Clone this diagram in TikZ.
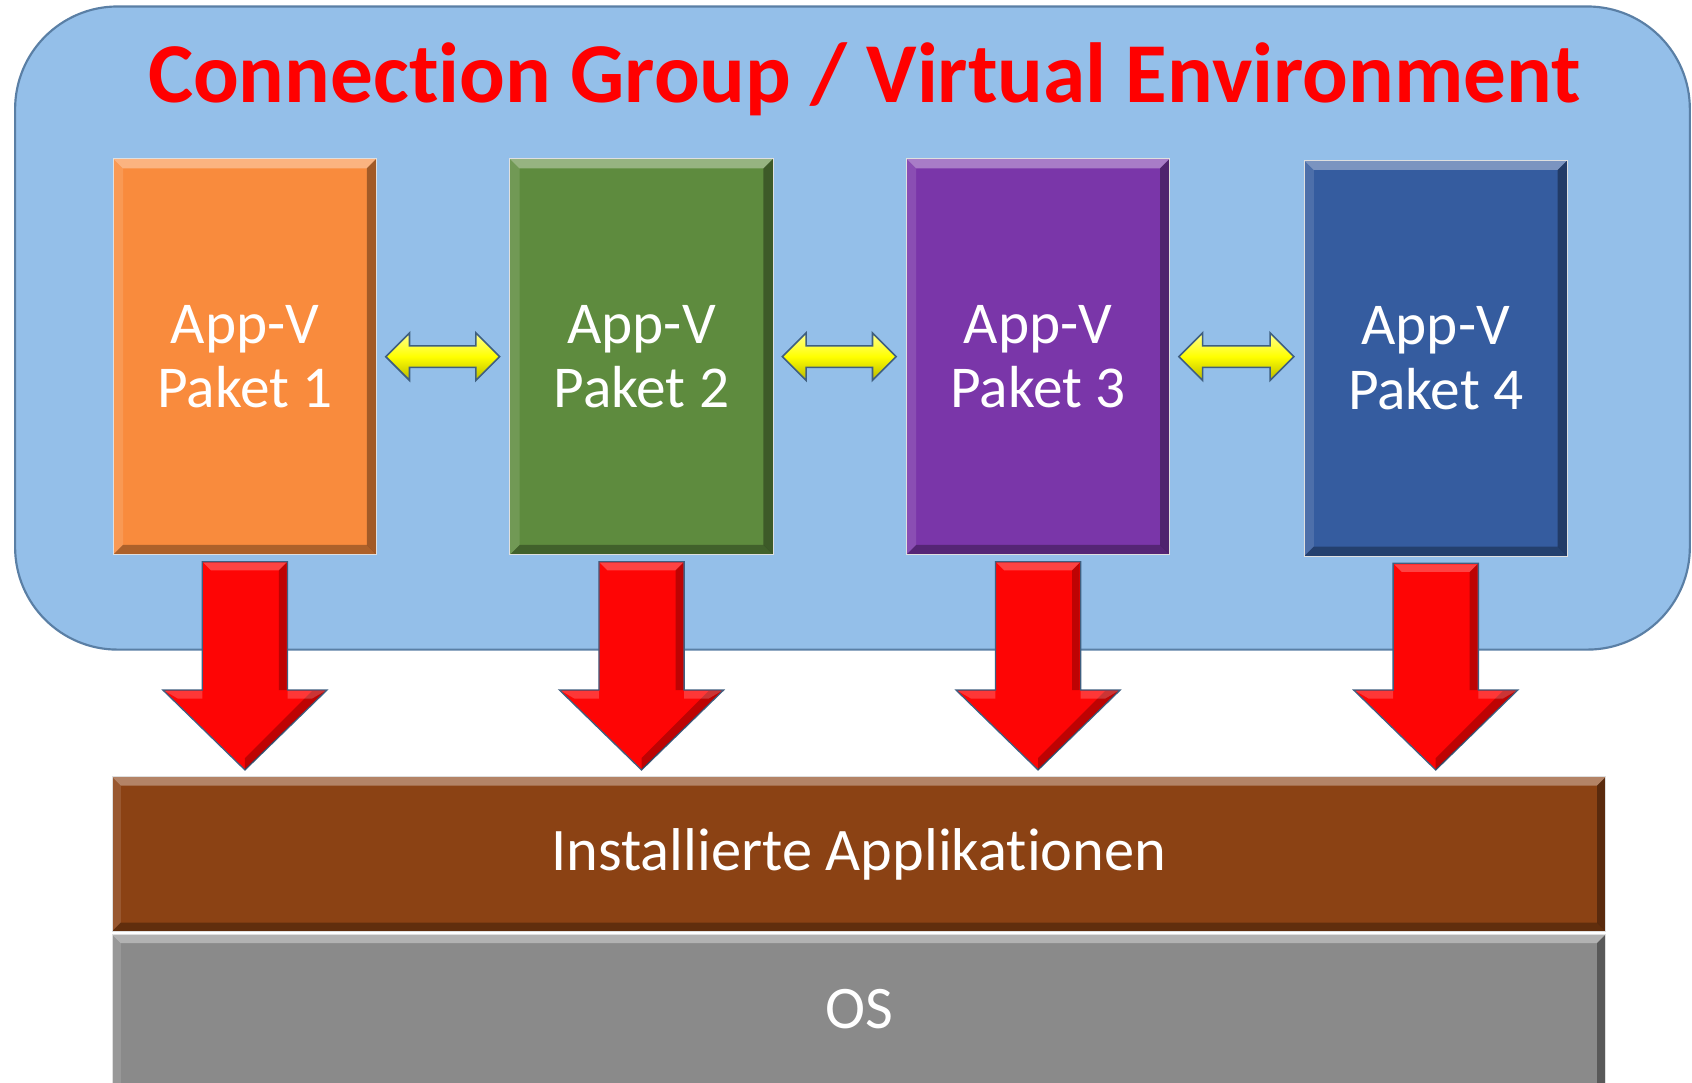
\documentclass[tikz,border=0pt]{standalone}
\usepackage{fontspec}
\setmainfont{Carlito}[Ligatures={NoCommon}]
\usetikzlibrary{calc}
\definecolor{grpfill}{HTML}{94BFE9}
\definecolor{grpline}{HTML}{5A7FA5}
\definecolor{cOrange}{HTML}{F98B3D}
\definecolor{cGreen}{HTML}{5E8B3E}
\definecolor{cPurple}{HTML}{7A36A9}
\definecolor{cBlue}{HTML}{355C9F}
\definecolor{cBrown}{HTML}{8B4214}
\definecolor{cGray}{HTML}{8A8A8A}
\definecolor{cRed}{HTML}{FE0505}
\definecolor{arrline}{HTML}{3F5F80}
\definecolor{yLight}{HTML}{FFFF90}
\definecolor{yDark}{HTML}{B8B800}
\tikzset{
  bevel/.style={path picture={
    \fill[white,opacity=.35] (path picture bounding box.north west) -- (path picture bounding box.north east)
      -- ($(path picture bounding box.north east)+(-#1,-#1)$) -- ($(path picture bounding box.north west)+(#1,-#1)$) -- cycle;
    \fill[white,opacity=.12] (path picture bounding box.north west) -- ($(path picture bounding box.north west)+(#1,-#1)$)
      -- ($(path picture bounding box.south west)+(#1,#1)$) -- (path picture bounding box.south west) -- cycle;
    \fill[black,opacity=.35] (path picture bounding box.north east) -- (path picture bounding box.south east)
      -- ($(path picture bounding box.south east)+(-#1,#1)$) -- ($(path picture bounding box.north east)+(-#1,-#1)$) -- cycle;
    \fill[black,opacity=.3] (path picture bounding box.south west) -- (path picture bounding box.south east)
      -- ($(path picture bounding box.south east)+(-#1,#1)$) -- ($(path picture bounding box.south west)+(#1,#1)$) -- cycle;
  }},
  pkbox/.style={fill=#1, draw=white!75!gray, line width=1pt, minimum width=244pt, minimum height=367pt,
    inner sep=0pt, align=center, text=white, font=\fontsize{55}{60}\selectfont, bevel=9pt},
  layer/.style={fill=#1, draw=white!75!gray, line width=1pt, minimum width=1384pt, inner sep=0pt,
    text=white, font=\fontsize{56}{62}\selectfont, bevel=8pt},
  redarrow/.style={fill=cRed, draw=arrline, line width=1.2pt, line join=miter},
  yarrow/.style={top color=yLight, bottom color=yDark, middle color=yellow, draw=arrline, line width=1.5pt},
}
\newcommand\pkarrow[2]{%
  \coordinate (tip#2) at ($(#1.south |- apps.north)+(0,-6)$);
  \coordinate (top#2) at ($(#1.south)+(0,6)$);
  \draw[redarrow] ($(top#2)+(-39.5,0)$) -- ($(top#2)+(39.5,0)$) -- ($(tip#2)+(39.5,-74)$) -- ($(tip#2)+(76,-74)$)
    -- (tip#2) -- ($(tip#2)+(-76,-74)$) -- ($(tip#2)+(-39.5,-74)$) -- cycle;
  \fill[white,opacity=.25] ($(top#2)+(-38.5,1)$) -- ($(top#2)+(38.5,1)$) -- ($(top#2)+(31.5,8)$) -- ($(top#2)+(-31.5,8)$) -- cycle;
  \fill[black,opacity=.25] ($(top#2)+(38.5,1)$) -- ($(tip#2)+(38.5,-74)$) -- ($(tip#2)+(31.5,-74)$) -- ($(top#2)+(31.5,8)$) -- cycle;
  \fill[black,opacity=.25] ($(tip#2)+(74,-73)$) -- (tip#2) -- ($(tip#2)+(0,-11)$) -- ($(tip#2)+(62,-73)$) -- cycle;
  \fill[white,opacity=.2] ($(tip#2)+(39.5,-73)$) -- ($(tip#2)+(74,-73)$) -- ($(tip#2)+(62,-66)$) -- ($(tip#2)+(39.5,-66)$) -- cycle;
  \fill[white,opacity=.2] ($(tip#2)+(-39.5,-73)$) -- ($(tip#2)+(-74,-73)$) -- ($(tip#2)+(-62,-66)$) -- ($(tip#2)+(-39.5,-66)$) -- cycle;
}
\newcommand\ydarrow[2]{%
  \coordinate (yl) at ($(#1.east)+(8,0)$);
  \coordinate (yr) at ($(#2.west |- #1.east)+(-9,0)$);
  \draw[yarrow] (yl) -- ($(yl)+(22,-22)$) -- ($(yl)+(22,-10)$) -- ($(yr)+(-22,-10)$) -- ($(yr)+(-22,-22)$)
    -- (yr) -- ($(yr)+(-22,22)$) -- ($(yr)+(-22,10)$) -- ($(yl)+(22,10)$) -- ($(yl)+(22,22)$) -- cycle;
}
\begin{document}
\begin{tikzpicture}[x=1pt,y=-1pt]
\useasboundingbox (0,0) rectangle (1568,1003);
\fill[white] (0,0) rectangle (1568,1003);
% group container
\node (group) [fill=grpfill, draw=grpline, line width=2pt, rounded corners=95pt,
  minimum width=1552pt, minimum height=596pt, inner sep=0pt] at (790,304) {};
\node (title) [anchor=base, text=red, font=\fontsize{79}{90}\selectfont\bfseries] at (801,95)
  {Connection Group / Virtual Environment};
% packages
\node (b1) [pkbox=cOrange] at (227,330.5) {App-V\\Paket 1};
\node (b2) [pkbox=cGreen] at (594.5,330.5) {App-V\\Paket 2};
\node (b3) [pkbox=cPurple] at (962,330.5) {App-V\\Paket 3};
\node (b4) [pkbox=cBlue] at (1330.5,332) {App-V\\Paket 4};
% layers
\node (apps) [layer=cBrown, minimum height=143pt] at (796,791.5) {Installierte Applikationen};
\node (os) [layer=cGray, minimum height=150pt] at (796,941) {\raisebox{12pt}{OS}};
% connectors
\ydarrow{b1}{b2}
\ydarrow{b2}{b3}
\ydarrow{b3}{b4}
\pkarrow{b1}{1}
\pkarrow{b2}{2}
\pkarrow{b3}{3}
\pkarrow{b4}{4}
\end{tikzpicture}
\end{document}
